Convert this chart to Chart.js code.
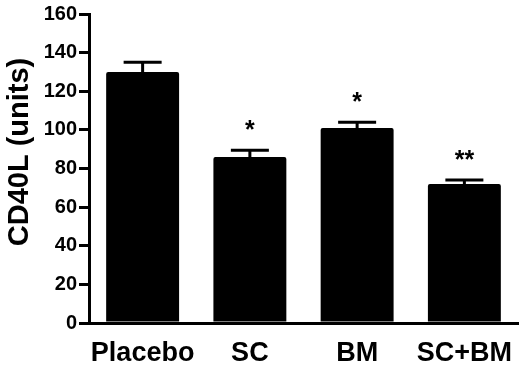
<!DOCTYPE html>
<html>
<head>
<meta charset="utf-8">
<script src="https://cdn.jsdelivr.net/npm/chart.js@4"></script>
<style>
  html, body { margin: 0; padding: 0; background: #fff; }
  #wrap { width: 520px; height: 378px; }
</style>
</head>
<body>
<div id="wrap"><canvas id="cd40lChart" width="520" height="378"></canvas></div>
<script>
// Values
const groups = ['Placebo', 'SC', 'BM', 'SC+BM'];
const meanValues = [130, 86, 101, 72];
const errorTop = [135, 89.5, 104, 74];       // mean + SEM
const significance = ['', '*', '*', '**'];
const yTicks = [0, 20, 40, 60, 80, 100, 120, 140, 160];
const yTitle = 'CD40L (units)';

const ctx = document.getElementById('cd40lChart').getContext('2d');
const fontFamily = 'Arial, "Liberation Sans", Helvetica, sans-serif';

// Upper error bars + significance stars, placed with the chart's own scales
const errorBars = {
    id: 'errorBars',
    afterDatasetsDraw(chart) {
        const c = chart.ctx;
        const yScale = chart.scales.y;
        const bars = chart.getDatasetMeta(0).data;
        c.save();
        c.strokeStyle = '#000';
        c.fillStyle = '#000';
        c.lineWidth = 3;
        bars.forEach((bar, i) => {
            const yTop = yScale.getPixelForValue(errorTop[i]);
            c.beginPath();
            c.moveTo(bar.x, bar.y);
            c.lineTo(bar.x, yTop);
            c.moveTo(bar.x - 19, yTop);
            c.lineTo(bar.x + 19, yTop);
            c.stroke();
            if (significance[i]) {
                c.font = 'bold 25px ' + fontFamily;
                c.textAlign = 'center';
                c.textBaseline = 'alphabetic';
                c.fillText(significance[i], bar.x, yTop - 12);
            }
        });
        c.restore();
    }
};

// Y axis title, drawn a little above the middle like in the figure
const axisTitle = {
    id: 'axisTitle',
    afterDraw(chart) {
        const c = chart.ctx;
        c.save();
        c.translate(20, 152);
        c.rotate(-Math.PI / 2);
        c.font = 'bold 29px ' + fontFamily;
        c.fillStyle = '#000';
        c.textAlign = 'center';
        c.textBaseline = 'middle';
        c.fillText(yTitle, 0, 0);
        c.restore();
    }
};

new Chart(ctx, {
    type: 'bar',
    data: {
        labels: groups,
        datasets: [{
            label: yTitle,
            data: meanValues,
            backgroundColor: '#000',
            borderWidth: 0,
            borderRadius: 2,
            categoryPercentage: 1,
            barPercentage: 0.68
        }]
    },
    options: {
        responsive: false,
        animation: false,
        layout: { padding: { top: 13, right: 2, left: 0, bottom: 0 } },
        plugins: {
            legend: { display: false },
            tooltip: { enabled: false }
        },
        scales: {
            x: {
                offset: true,
                grid: { display: false, drawTicks: false },
                border: { display: true, color: '#000', width: 3 },
                ticks: {
                    color: '#000',
                    padding: 14,
                    autoSkip: false,
                    maxRotation: 0,
                    minRotation: 0,
                    font: { family: fontFamily, size: 27, weight: 'bold' }
                },
                afterFit(scale) {
                    scale.height = 55;
                    scale.paddingLeft = 0;
                    scale.paddingRight = 0;
                }
            },
            y: {
                min: 0,
                max: 160,
                afterBuildTicks(scale) {
                    scale.ticks = yTicks.map(v => ({ value: v }));
                },
                grid: {
                    display: true,
                    drawOnChartArea: false,
                    drawTicks: true,
                    tickLength: 10,
                    lineWidth: 3,
                    color: '#000'
                },
                border: { display: true, color: '#000', width: 3 },
                ticks: {
                    color: '#000',
                    padding: 2,
                    font: { family: fontFamily, size: 20, weight: 'bold' }
                },
                afterFit(scale) { scale.width = 89; }
            }
        }
    },
    plugins: [errorBars, axisTitle]
});
</script>
</body>
</html>
